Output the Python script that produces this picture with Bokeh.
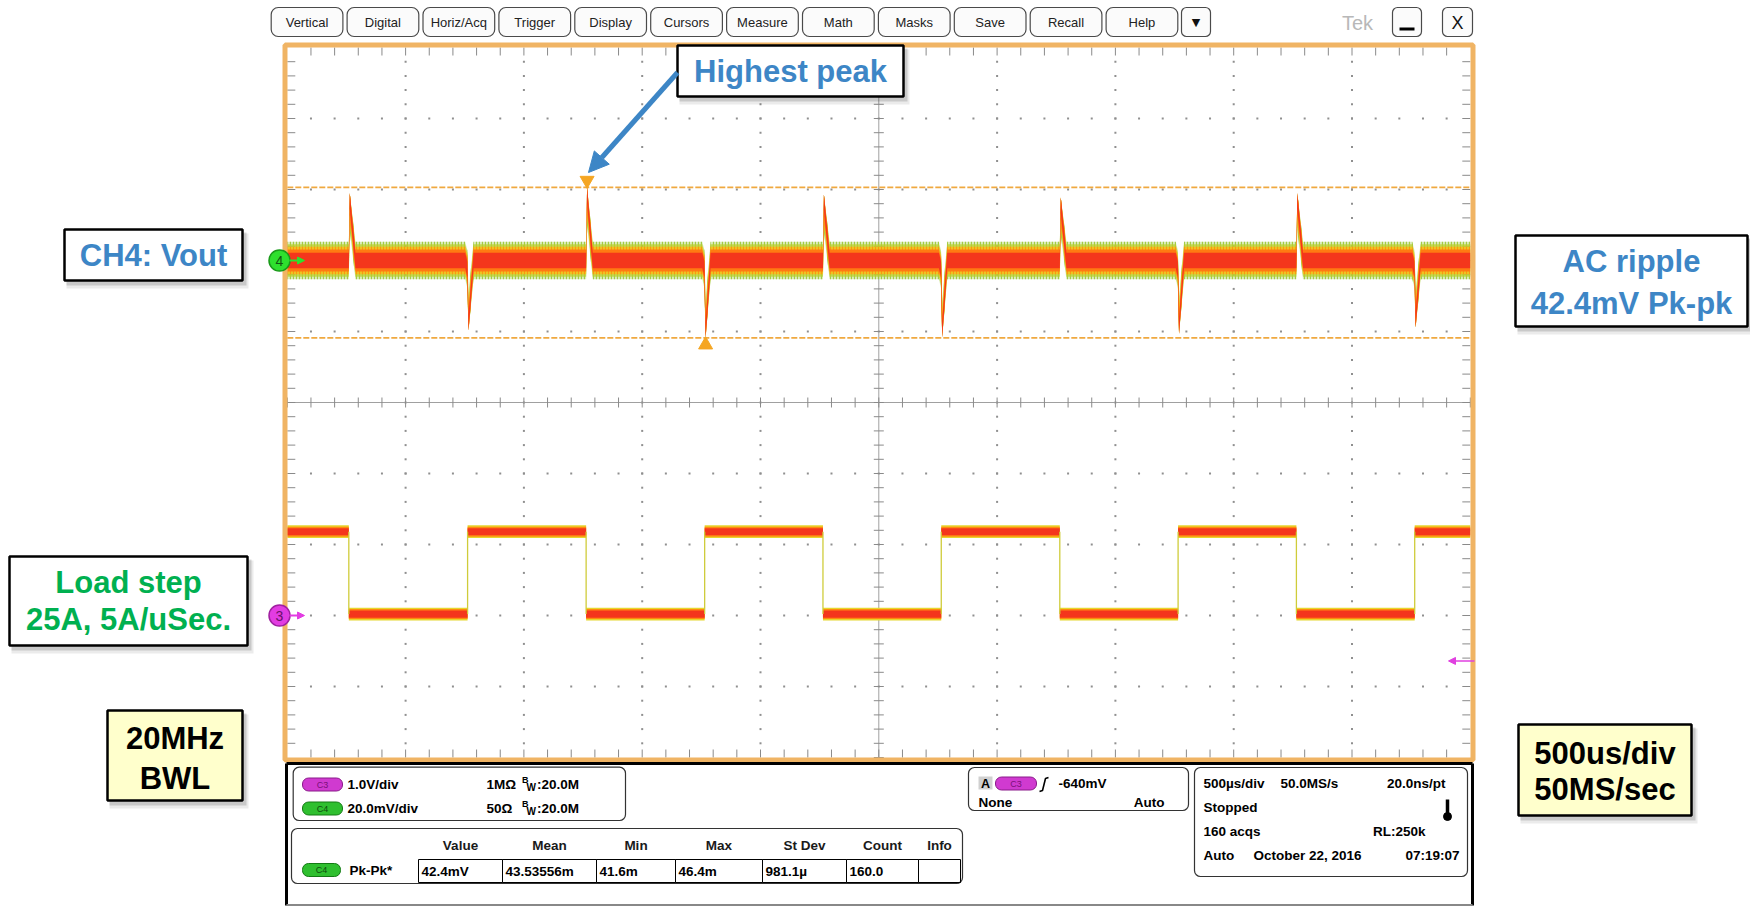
import numpy as np
from bokeh.plotting import figure
from bokeh.models import Range1d, BoxAnnotation, Arrow, NormalHead
from bokeh.core.properties import value
from bokeh.embed import file_html
from bokeh.resources import INLINE

# ---------------- values ----------------
time_per_div_us = 500.0
ch3_volts_per_div = 1.0
ch4_mv_per_div = 20.0
ch3_position_div = -3.0
ch4_position_div = 2.0

# C3 load-step square wave edges (us from screen centre), +1 rising / -1 falling
c3_edge_times_us = [-2240, -1738, -1237, -736, -236, 264, 765, 1265, 1765, 2265]
c3_edge_direction = [-1, 1, -1, 1, -1, 1, -1, 1, -1, 1]
c3_high_V = 1.18
c3_low_V = 0.02
c3_initial_V = 1.18

# C4 (Vout, AC coupled) transient extreme at each load edge, mV
c4_spike_peak_mV = [19.0, -19.7, 20.6, -21.8, 18.6, -21.6, 17.8, -20.6, 19.0, -18.8]

cursor_levels_mV = [20.6, -21.8]
trigger_level_V = -0.64

menu_labels = ["Vertical", "Digital", "Horiz/Acq", "Trigger", "Display", "Cursors",
               "Measure", "Math", "Masks", "Save", "Recall", "Help"]
meas_headers = ["Value", "Mean", "Min", "Max", "St Dev", "Count", "Info"]
meas_values = ["42.4mV", "43.53556m", "41.6m", "46.4m", "981.1\u00b5", "160.0", ""]

# ---------------- screen geometry ----------------
W, H = 1750, 906
CX, CY = 878.3, 402.0          # pixel of graticule centre
PX_DIV, PY_DIV = 118.3, 71.0   # pixels per division
PXT = PX_DIV / time_per_div_us


def tx(px):
    return (px - CX) / PXT


def dy(py):
    return (CY - py) / PY_DIV


p = figure(width=W, height=H, x_range=Range1d(tx(0), tx(W)), y_range=Range1d(dy(H), dy(0)),
           output_backend="svg", toolbar_location=None, tools="",
           x_axis_location=None, y_axis_location=None, min_border=0,
           outline_line_color=None, background_fill_color="white", border_fill_color="white")
p.xgrid.visible = False
p.ygrid.visible = False

FONT = "Liberation Sans"


def T(px, py, s, size, color="#000000", bold=True, align="left", baseline="middle", font=FONT):
    p.text(x=[tx(px)], y=[dy(py)], text=[s], text_font=value(font),
           text_font_size=value(f"{size}px"), text_font_style="bold" if bold else "normal",
           text_color=color, text_align=align, text_baseline=baseline)


def RBOX(x1, y1, x2, y2, fill="white", line="#333333", lw=1.2, r=6):
    p.add_layout(BoxAnnotation(left=tx(x1), right=tx(x2), top=dy(y1), bottom=dy(y2),
                               fill_color=fill, fill_alpha=1.0, line_color=line, line_alpha=1.0,
                               line_width=lw, border_radius=int(r), level="underlay"))


def QBOX(x1, y1, x2, y2, fill="white", line="black", lw=1.0, alpha=1.0):
    p.quad(left=[tx(x1)], right=[tx(x2)], top=[dy(y1)], bottom=[dy(y2)],
           fill_color=fill, fill_alpha=alpha, line_color=line, line_width=lw)


half_t = 5 * time_per_div_us
minor_x = np.arange(-25, 26) * (time_per_div_us / 5)
minor_y = np.arange(-25, 26) * 0.2
major_x = np.array([k * time_per_div_us for k in range(-4, 5) if k != 0])
major_y = np.array([k for k in range(-4, 5) if k != 0], dtype=float)

# ---------------- graticule ----------------
gx1, gy1 = np.meshgrid(major_x, minor_y[1:-1])
gx2, gy2 = np.meshgrid(minor_x[1:-1], major_y)
p.scatter(np.concatenate([gx1.ravel(), gx2.ravel()]), np.concatenate([gy1.ravel(), gy2.ravel()]),
          marker="square", size=2, fill_color="#8f8f8f", line_color=None)

# centre cross
p.segment(x0=[0, -half_t], y0=[-5, 0], x1=[0, half_t], y1=[5, 0], line_color="#a0a0a0", line_width=1)
tk = 5
p.segment(x0=minor_x, y0=[-tk / PY_DIV] * len(minor_x), x1=minor_x, y1=[tk / PY_DIV] * len(minor_x),
          line_color="#8a8a8a", line_width=1)
p.segment(x0=[-tk / PXT] * len(minor_y), y0=minor_y, x1=[tk / PXT] * len(minor_y), y1=minor_y,
          line_color="#8a8a8a", line_width=1)
# edge ticks
el = 8
mx = minor_x[1:-1]
my = minor_y[1:-1]
p.segment(x0=mx, y0=[5] * len(mx), x1=mx, y1=[5 - el / PY_DIV] * len(mx), line_color="#8a8a8a")
p.segment(x0=mx, y0=[-5] * len(mx), x1=mx, y1=[-5 + el / PY_DIV] * len(mx), line_color="#8a8a8a")
p.segment(x0=[-half_t] * len(my), y0=my, x1=[-half_t + el / PXT] * len(my), y1=my, line_color="#8a8a8a")
p.segment(x0=[half_t] * len(my), y0=my, x1=[half_t - el / PXT] * len(my), y1=my, line_color="#8a8a8a")

# cursors
cur_div = [ch4_position_div + c / ch4_mv_per_div for c in cursor_levels_mV]
p.segment(x0=[-half_t] * 2, y0=cur_div, x1=[half_t] * 2, y1=cur_div,
          line_color="#f0a940", line_width=1.6, line_dash="6 2")

# ---------------- C4 trace (persistence bands) ----------------


def c4_layer(h):
    xs = [-half_t]
    cs = [0.0]
    for t0, pk in zip(c3_edge_times_us, c4_spike_peak_mV):
        if pk > 0:
            xs += [t0, t0 + 4, t0 + 28]
            cs += [0.0, pk - h, 0.0]
        else:
            xs += [t0 - 10, t0 - 1, t0 + 4, t0 + 25]
            cs += [0.0, -2.5, pk + h, 0.0]
    xs.append(half_t)
    cs.append(0.0)
    xs = np.array(xs, dtype=float)
    cs = np.array(cs)
    return xs, ch4_position_div + (cs + h) / ch4_mv_per_div, ch4_position_div + (cs - h) / ch4_mv_per_div


c4_layers = [
    dict(h=5.3, fill_color="#9cc83a", fill_alpha=0.35, hatch_pattern="vertical_line",
         hatch_color="#9cc83a", hatch_scale=3, hatch_weight=1.2, hatch_alpha=0.9),
    dict(h=4.6, fill_color="#b9cf2e", fill_alpha=0.75),
    dict(h=3.9, fill_color="#f2c21c", fill_alpha=0.9, hatch_pattern="vertical_line",
         hatch_color="#ff8a10", hatch_scale=3, hatch_weight=1.0, hatch_alpha=0.8),
    dict(h=3.1, fill_color="#ff7a12", fill_alpha=1.0),
    dict(h=2.2, fill_color="#f4361c", fill_alpha=1.0),
]
for lay in c4_layers:
    lay = dict(lay)
    h = lay.pop("h")
    xs, up, lo = c4_layer(h)
    p.varea(x=xs, y1=lo, y2=up, **lay)

# ---------------- C3 trace ----------------
bounds = [-half_t] + list(c3_edge_times_us) + [half_t]
levels = [c3_initial_V]
for d in c3_edge_direction:
    levels.append(c3_high_V if d > 0 else c3_low_V)
lev_div = np.array([ch3_position_div + v / ch3_volts_per_div for v in levels])
for h, col in [(0.09, "#e6d62e"), (0.07, "#ff8a10"), (0.05, "#f4361c")]:
    p.quad(left=bounds[:-1], right=bounds[1:], bottom=lev_div - h, top=lev_div + h,
           fill_color=col, line_color=None)
p.segment(x0=c3_edge_times_us, x1=c3_edge_times_us, y0=lev_div[:-1], y1=lev_div[1:],
          line_color="#cfcc3a", line_width=1.3)

# cursor position markers at the extreme spikes
i_hi = int(np.argmax(c4_spike_peak_mV))
i_lo = int(np.argmin(c4_spike_peak_mV))
p.scatter([c3_edge_times_us[i_hi] + 4], [cur_div[0] + 7 / PY_DIV], marker="inverted_triangle",
          size=14, fill_color="#f5a623", line_color="#f5a623")
p.scatter([c3_edge_times_us[i_lo] + 4], [cur_div[1] - 7 / PY_DIV], marker="triangle",
          size=14, fill_color="#f5a623", line_color="#f5a623")

# orange frame
QBOX(284.5, 44.5, 1472.5, 759.5, fill=None, line="#f0b464", lw=5)

# channel markers
for pos, fill, edge, lab, tcol in [(ch4_position_div, "#2ee02e", "#1a9a1a", "4", "#125512"),
                                   (ch3_position_div, "#e23ce2", "#a020a0", "3", "#6a106a")]:
    p.add_layout(Arrow(x_start=tx(289), y_start=pos, x_end=tx(304), y_end=pos, line_color=fill,
                       line_width=2, end=NormalHead(size=7, fill_color=fill, line_color=fill)))
    p.scatter([tx(279)], [pos], marker="circle", size=21, fill_color=fill, line_color=edge, line_width=1.5)
    p.text(x=[tx(279)], y=[pos], text=[lab], text_font=value(FONT), text_font_size=value("14px"),
           text_color=tcol, text_align="center", text_baseline="middle")

trig_div = ch3_position_div + trigger_level_V / ch3_volts_per_div
p.add_layout(Arrow(x_start=tx(1474), y_start=trig_div, x_end=tx(1448), y_end=trig_div, line_color="#e040e0",
                   line_width=1.5, end=NormalHead(size=7, fill_color="#e040e0", line_color="#e040e0")))

# ---------------- menu bar ----------------
for i, lab in enumerate(menu_labels):
    x1 = 270.7 + 75.9 * i
    RBOX(x1, 7, x1 + 71.7, 36, fill="#fbfbfb", line="#4a4a4a", lw=1.2, r=7)
    T(x1 + 35.8, 22, lab, 13, color="#222222", bold=False, align="center")
RBOX(1181, 7, 1210, 36, fill="#fbfbfb", line="#4a4a4a", lw=1.2, r=5)
T(1195.5, 22, "\u25bc", 11, color="#111111", bold=False, align="center", font="DejaVu Sans")
T(1357, 22, "Tek", 20, color="#b8b8b8", bold=False, align="center")
RBOX(1392, 7, 1421, 36, fill="#fbfbfb", line="#4a4a4a", lw=1.2, r=5)
p.segment(x0=[tx(1399)], y0=[dy(28.5)], x1=[tx(1414)], y1=[dy(28.5)], line_color="black", line_width=3)
RBOX(1442, 7, 1472, 36, fill="#fbfbfb", line="#4a4a4a", lw=1.2, r=5)
T(1457, 22, "X", 18, color="#111111", bold=False, align="center")

# ---------------- bottom panel ----------------
p.segment(x0=[tx(286), tx(1472), tx(286), tx(286)], y0=[dy(763), dy(763), dy(763), dy(905)],
          x1=[tx(286), tx(1472), tx(1472), tx(1472)], y1=[dy(905), dy(905), dy(763), dy(905)],
          line_color=["black", "black", "black", "#888888"], line_width=3)


def pill(x1, y1, x2, y2, lab, fill, edge, tcol):
    RBOX(x1, y1, x2, y2, fill=fill, line=edge, lw=1, r=(y2 - y1) / 2)
    T((x1 + x2) / 2, (y1 + y2) / 2, lab, 9, color=tcol, bold=False, align="center")


MAG = ("#d03ad0", "#8a1a8a", "#7a107a")
GRN = ("#2fbf2f", "#137a13", "#0d4d0d")

RBOX(292.7, 766.7, 625, 820)
for ry, lab, cols, scale, imp in [(784, "C3", MAG, "1.0V/div", "1M\u03a9"),
                                  (808, "C4", GRN, "20.0mV/div", "50\u03a9")]:
    pill(302, ry - 6.5, 342, ry + 6.5, lab, *cols)
    T(347, ry, scale, 13.5)
    T(486, ry, imp, 13.5)
    T(521.5, ry - 5, "B", 9)
    T(526, ry + 3, "W", 10)
    T(536.5, ry, ":20.0M", 13.5)

# trigger box
RBOX(968, 767, 1188, 810)
QBOX(978, 776, 992, 789, fill="#d0d0d0", line=None)
T(985, 783, "A", 12.5, align="center")
pill(995, 776.5, 1036, 789.5, "C3", *MAG)
p.line(x=[tx(1039), tx(1042), tx(1045), tx(1048)], y=[dy(791), dy(790), dy(778), dy(777)],
       line_color="black", line_width=1.6)
T(1058, 783, f"{trigger_level_V * 1000:.0f}mV", 13.5)
T(978, 802, "None", 13.5)
T(1164, 802, "Auto", 13.5, align="right")

# horizontal box
RBOX(1194, 767, 1467, 876)
T(1203, 783, "500\u00b5s/div", 13.5)
T(1280, 783, "50.0MS/s", 13.5)
T(1445, 783, "20.0ns/pt", 13.5, align="right")
T(1203, 807, "Stopped", 13.5)
p.segment(x0=[tx(1447)], y0=[dy(799)], x1=[tx(1447)], y1=[dy(814)], line_color="black", line_width=3.5)
p.scatter([tx(1447)], [dy(816)], marker="circle", size=8, fill_color="black", line_color="black")
T(1203, 831, "160 acqs", 13.5)
T(1425, 831, "RL:250k", 13.5, align="right")
T(1203, 855, "Auto", 13.5)
T(1253, 855, "October 22, 2016", 13.5)
T(1459, 855, "07:19:07", 13.5, align="right")

# measurement table
RBOX(291, 828, 962, 883)
cell_x = [418, 502, 596, 675, 762, 846, 918, 960]
p.quad(left=[tx(a) for a in cell_x[:-1]], right=[tx(b) for b in cell_x[1:]],
       top=[dy(859)] * 7, bottom=[dy(882)] * 7, fill_color=None, line_color="black", line_width=1)
for a, b, hd, vl in zip(cell_x[:-1], cell_x[1:], meas_headers, meas_values):
    T((a + b) / 2, 845, hd, 13.5, color="#1a1a1a", align="center")
    T(a + 3, 870.5, vl, 13.5)
pill(302, 863, 340, 876, "C4", *GRN)
T(349, 870, "Pk-Pk*", 13.5)

# ---------------- callout boxes ----------------


def callout(x1, y1, x2, y2, lines, color, fill="white"):
    QBOX(x1 + 2, y1 + 4, x2 + 6, y2 + 8, fill="#000000", line=None, alpha=0.08)
    QBOX(x1 + 2, y1 + 3, x2 + 4, y2 + 5, fill="#000000", line=None, alpha=0.14)
    QBOX(x1, y1, x2, y2, fill=fill, line="black", lw=2.5)
    for (s, ly) in lines:
        T((x1 + x2) / 2, ly, s, 31, color=color, align="center")


BLUE = "#3d86c6"
GREEN = "#00b050"
callout(677, 45, 903, 96, [("Highest peak", 71)], BLUE)
callout(64, 229, 242, 280, [("CH4: Vout", 255)], BLUE)
callout(9, 556, 247, 645, [("Load step", 582), ("25A, 5A/uSec.", 619)], GREEN)
callout(1515, 235, 1747, 326, [("AC ripple", 261), ("42.4mV Pk-pk", 303)], BLUE)
callout(107, 710, 242, 800, [("20MHz", 738), ("BWL", 778)], "black", fill="#ffffcc")
callout(1518, 724, 1691, 815, [("500us/div", 753), ("50MS/sec", 789)], "black", fill="#ffffcc")

p.add_layout(Arrow(x_start=tx(677), y_start=dy(72), x_end=tx(588), y_end=dy(172), line_color=BLUE,
                   line_width=5, end=NormalHead(size=20, fill_color=BLUE, line_color=BLUE)))

open("out.html", "w").write(file_html(p, INLINE))
